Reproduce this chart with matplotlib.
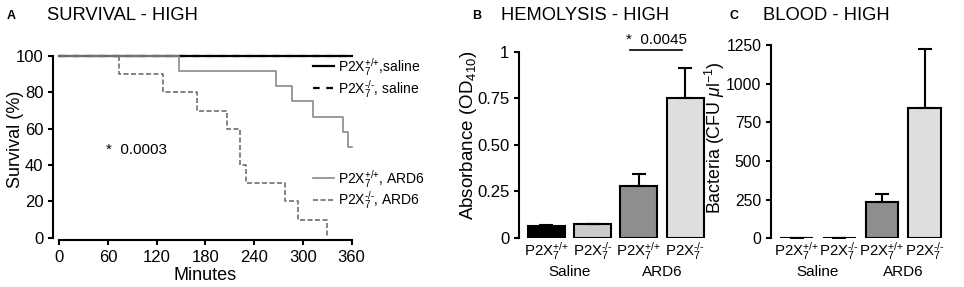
import matplotlib
matplotlib.use("Agg")
import matplotlib.pyplot as plt

plt.rcParams['font.family'] = ['Liberation Sans', 'DejaVu Sans']
plt.rcParams['mathtext.fontset'] = 'custom'
plt.rcParams['mathtext.rm'] = 'Liberation Sans'
plt.rcParams['mathtext.it'] = 'Liberation Sans:italic'
plt.rcParams['mathtext.bf'] = 'Liberation Sans:bold'

# survival curves (minutes, % alive)
wt_saline_t = [0, 360]
wt_saline_s = [100, 100]
ko_saline_t = [0, 360]
ko_saline_s = [100, 100]
wt_ard6_t = [0, 148, 267, 287, 313, 349, 355, 360]
wt_ard6_s = [100, 91.7, 83.3, 75, 66.7, 58.3, 50, 50]
ko_ard6_t = [0, 73, 128, 170, 207, 222, 230, 278, 294, 330]
ko_ard6_s = [100, 90, 80, 70, 60, 40, 30, 20, 10, 0]

# bar panels
groups = ["Saline", "ARD6"]
genotypes = [r"P2X$_7^{\text{+/+}}$", r"P2X$_7^{\text{-/-}}$", r"P2X$_7^{\text{+/+}}$", r"P2X$_7^{\text{-/-}}$"]
hemo_mean = [0.065, 0.072, 0.28, 0.75]
hemo_err = [0.003, 0.003, 0.062, 0.16]
blood_mean = [0, 0, 233, 840]
blood_err = [0, 0, 53, 384]
bar_colors = ["#000000", "#cccccc", "#8e8e8e", "#dedede"]

fig = plt.figure(figsize=(9.64, 2.87), dpi=100)

def clean(ax):
    for s in ["top", "right"]:
        ax.spines[s].set_visible(False)
    for s in ["left", "bottom"]:
        ax.spines[s].set_linewidth(1.5)
    ax.tick_params(direction="out", length=3.5, width=1.5, labelsize=12)

# ---- A: survival
axA = fig.add_axes([0.0615, 0.1718, 0.3033, 0.633])
clean(axA)
l1, = axA.step(wt_saline_t, wt_saline_s, where="post", color="black", lw=1.6)
l2, = axA.step(ko_saline_t, ko_saline_s, where="post", color="black", lw=1.6, dashes=(3, 3))
l3, = axA.step(wt_ard6_t, wt_ard6_s, where="post", color="#8a8a8a", lw=1.2)
l4, = axA.step(ko_ard6_t, ko_ard6_s, where="post", color="#6e6e6e", lw=1.2, dashes=(3, 1.5))
axA.set_xlim(0, 360)
axA.set_ylim(0, 100)
axA.set_xticks(range(0, 361, 60))
axA.set_yticks(range(0, 101, 20))
axA.spines["left"].set_position(("outward", 4.5))
axA.spines["bottom"].set_position(("outward", 2))
axA.set_xlabel("Minutes", fontsize=13, labelpad=1)
axA.text(58, 48, "*  0.0003", fontsize=11, va="center")
for l in (l1, l2, l3, l4):
    l.set_clip_on(False)
leg_kw = dict(loc="upper left", bbox_transform=fig.transFigure, frameon=False, fontsize=10,
              handlelength=1.5, handletextpad=0.3, borderpad=0, labelspacing=0.0)
legA1 = axA.legend([l1, l2], [r"P2X$_7^{\text{+/+}}$,saline", r"P2X$_7^{\text{-/-}}$, saline"],
                   bbox_to_anchor=(0.318, 0.83), **leg_kw)
axA.add_artist(legA1)
axA.legend([l3, l4], [r"P2X$_7^{\text{+/+}}$, ARD6", r"P2X$_7^{\text{-/-}}$, ARD6"],
           bbox_to_anchor=(0.318, 0.44), **leg_kw)
fig.text(0.016, 0.513, "Survival (%)", rotation=90, ha="center", va="center", fontsize=13)

# ---- bar panels
def bar_panel(rect, means, errs, xmin, xmax, width):
    ax = fig.add_axes(rect)
    clean(ax)
    ax.spines["bottom"].set_visible(False)
    x = range(len(means))
    ax.bar(x, means, width=width, color=bar_colors, edgecolor="black", linewidth=1.5,
           yerr=[[0] * len(errs), errs], capsize=5,
           error_kw=dict(elinewidth=1.5, capthick=1.5, ecolor="black"))
    ax.set_xlim(xmin, xmax)
    ax.set_xticks(list(x))
    ax.set_xticklabels(genotypes, fontsize=10.8)
    ax.tick_params(axis="x", bottom=False, length=0, pad=1.5)
    for i, g in enumerate(groups):
        ax.annotate(g, (2 * i + 0.5, 0), xycoords=("data", "axes fraction"),
                    xytext=(0, -24.5), textcoords="offset points",
                    ha="center", va="center", fontsize=11)
    return ax

axB = bar_panel([0.5384, 0.1718, 0.194, 0.648], hemo_mean, hemo_err, -0.59, 3.45, 0.8)
axB.set_ylim(0, 1)
axB.set_yticks([0, 0.25, 0.5, 0.75, 1])
axB.set_yticklabels(["0", "0.25", "0.50", "0.75", "1"])
axB.plot([1.8, 2.93], [1.01, 1.01], color="black", lw=1.2, clip_on=False)
axB.text(2.38, 1.065, "*  0.0045", ha="center", va="center", fontsize=11)
fig.text(0.4865, 0.53, r"Absorbance (OD$_{410}$)", rotation=90, ha="center", va="center", fontsize=13.5)

axC = bar_panel([0.7998, 0.1697, 0.178, 0.6735], blood_mean, blood_err, -0.6, 3.42, 0.77)
axC.set_ylim(0, 1250)
axC.set_yticks([0, 250, 500, 750, 1000, 1250])
axC.tick_params(axis="y", labelsize=11.3)
fig.text(0.742, 0.52, r"Bacteria (CFU $\mathit{\mu}$l$^{-1}$)", rotation=90, ha="center", va="center", fontsize=12.8)

# panel titles
for xl, xt, letter, title in [(0.007, 0.049, "A", "SURVIVAL - HIGH"),
                              (0.490, 0.520, "B", "HEMOLYSIS - HIGH"),
                              (0.757, 0.791, "C", "BLOOD - HIGH")]:
    fig.text(xl, 0.945, letter, fontsize=9, fontweight="bold", va="center")
    fig.text(xt, 0.945, title, fontsize=13.2, va="center")

fig.savefig("out.png", dpi=100)
